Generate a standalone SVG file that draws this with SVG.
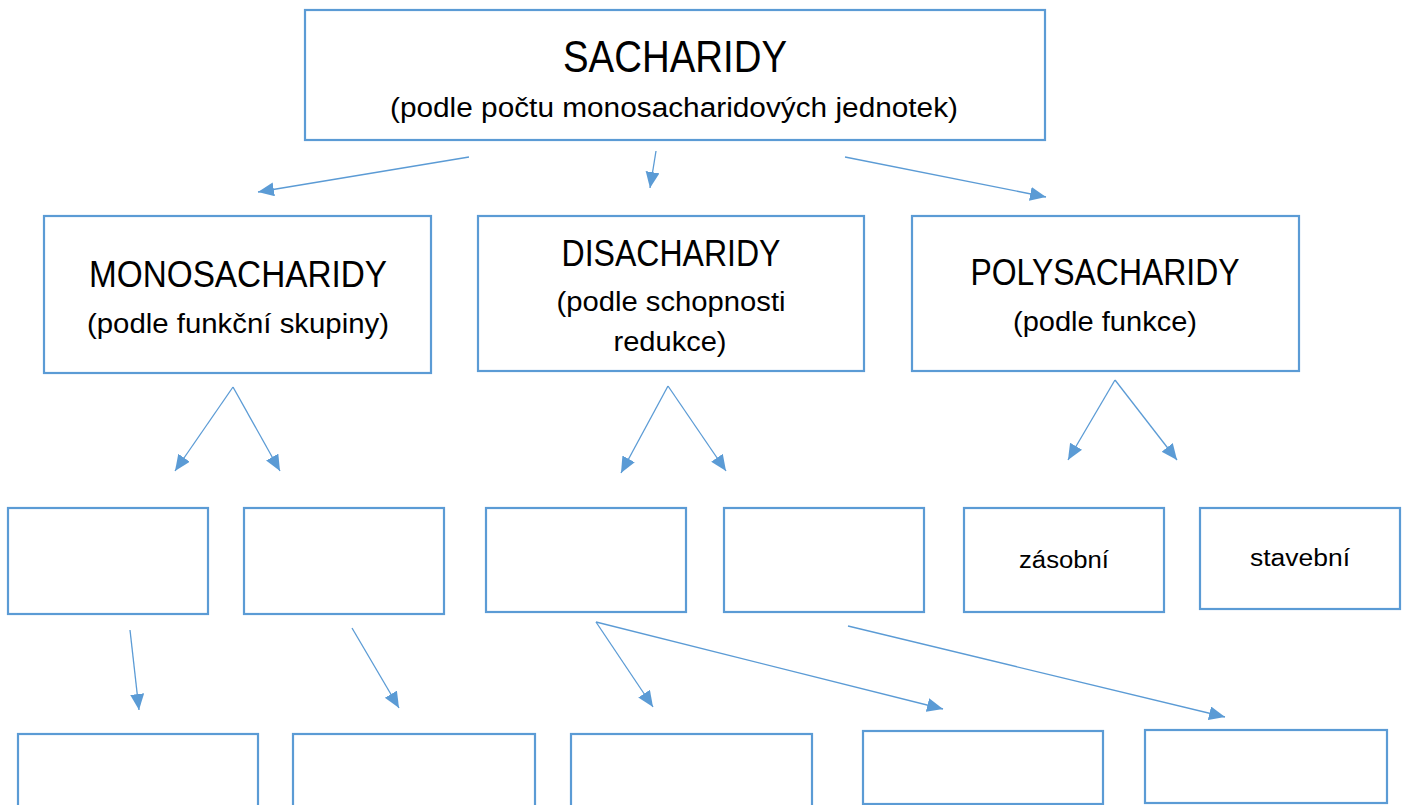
<svg xmlns="http://www.w3.org/2000/svg" width="1409" height="805" viewBox="0 0 1409 805">
<style>
.box{fill:#fff;stroke:#5B9BD5;stroke-width:2.2}
.con{stroke:#5B9BD5;stroke-width:1.3;fill:none;marker-end:url(#ah)}
text{font-family:"Liberation Sans",Arial,sans-serif;fill:#000;text-anchor:middle}
.t1{font-size:44px}
.t2{font-size:37px}
.s{font-size:27px}
.s3{font-size:23px}
</style>
<defs>
<marker id="ah" markerUnits="userSpaceOnUse" markerWidth="18" markerHeight="15" refX="16" refY="7" orient="auto">
<path d="M0,0 L16,7 L0,14 Z" fill="#5B9BD5"/>
</marker>
</defs>
<rect width="1409" height="805" fill="#fff"/>
<g id="connectors">
<line class="con" x1="469" y1="157" x2="258" y2="192"/>
<line class="con" x1="656" y1="151" x2="650" y2="188"/>
<line class="con" x1="845" y1="157" x2="1046" y2="197"/>
<line class="con" x1="233" y1="387" x2="175" y2="471"/>
<line class="con" x1="233" y1="387" x2="280" y2="471"/>
<line class="con" x1="668" y1="386" x2="621" y2="473"/>
<line class="con" x1="668" y1="386" x2="726" y2="471"/>
<line class="con" x1="1115" y1="380" x2="1068" y2="460"/>
<line class="con" x1="1115" y1="380" x2="1177" y2="460"/>
<line class="con" x1="130" y1="630" x2="139" y2="710"/>
<line class="con" x1="352" y1="628" x2="399" y2="708"/>
<line class="con" x1="596" y1="622" x2="653" y2="707"/>
<line class="con" x1="596" y1="622" x2="943" y2="709"/>
<line class="con" x1="848" y1="626" x2="1225" y2="717"/>
</g>
<g id="sacharidy">
<rect class="box" x="305" y="10" width="740" height="130"/>
<text class="t1" x="675" y="72" textLength="224" lengthAdjust="spacingAndGlyphs">SACHARIDY</text>
<text class="s" x="674" y="117" textLength="568" lengthAdjust="spacingAndGlyphs">(podle počtu monosacharidových jednotek)</text>
</g>
<g id="monosacharidy">
<rect class="box" x="44" y="216" width="387" height="157"/>
<text class="t2" x="238" y="287" textLength="298" lengthAdjust="spacingAndGlyphs">MONOSACHARIDY</text>
<text class="s" x="238" y="333" textLength="302" lengthAdjust="spacingAndGlyphs">(podle funkční skupiny)</text>
</g>
<g id="disacharidy">
<rect class="box" x="478" y="216" width="386" height="155"/>
<text class="t2" x="671" y="266" textLength="219" lengthAdjust="spacingAndGlyphs">DISACHARIDY</text>
<text class="s" x="671" y="311" textLength="229" lengthAdjust="spacingAndGlyphs">(podle schopnosti</text>
<text class="s" x="670" y="351" textLength="113" lengthAdjust="spacingAndGlyphs">redukce)</text>
</g>
<g id="polysacharidy">
<rect class="box" x="912" y="216" width="387" height="155"/>
<text class="t2" x="1105" y="285" textLength="269" lengthAdjust="spacingAndGlyphs">POLYSACHARIDY</text>
<text class="s" x="1105" y="331" textLength="184" lengthAdjust="spacingAndGlyphs">(podle funkce)</text>
</g>
<g id="r3a"><rect class="box" x="8" y="508" width="200" height="106"/></g>
<g id="r3b"><rect class="box" x="244" y="508" width="200" height="106"/></g>
<g id="r3c"><rect class="box" x="486" y="508" width="200" height="104"/></g>
<g id="r3d"><rect class="box" x="724" y="508" width="200" height="104"/></g>
<g id="zasobni">
<rect class="box" x="964" y="508" width="200" height="104"/>
<text class="s3" x="1064" y="568" textLength="90" lengthAdjust="spacingAndGlyphs">zásobní</text>
</g>
<g id="stavebni">
<rect class="box" x="1200" y="508" width="200" height="101"/>
<text class="s3" x="1300" y="566" textLength="100" lengthAdjust="spacingAndGlyphs">stavební</text>
</g>
<g id="r4a"><rect class="box" x="18" y="734" width="240" height="90"/></g>
<g id="r4b"><rect class="box" x="293" y="734" width="242" height="90"/></g>
<g id="r4c"><rect class="box" x="571" y="734" width="241" height="90"/></g>
<g id="r4d"><rect class="box" x="863" y="731" width="240" height="73"/></g>
<g id="r4e"><rect class="box" x="1145" y="730" width="242" height="73"/></g>
</svg>
